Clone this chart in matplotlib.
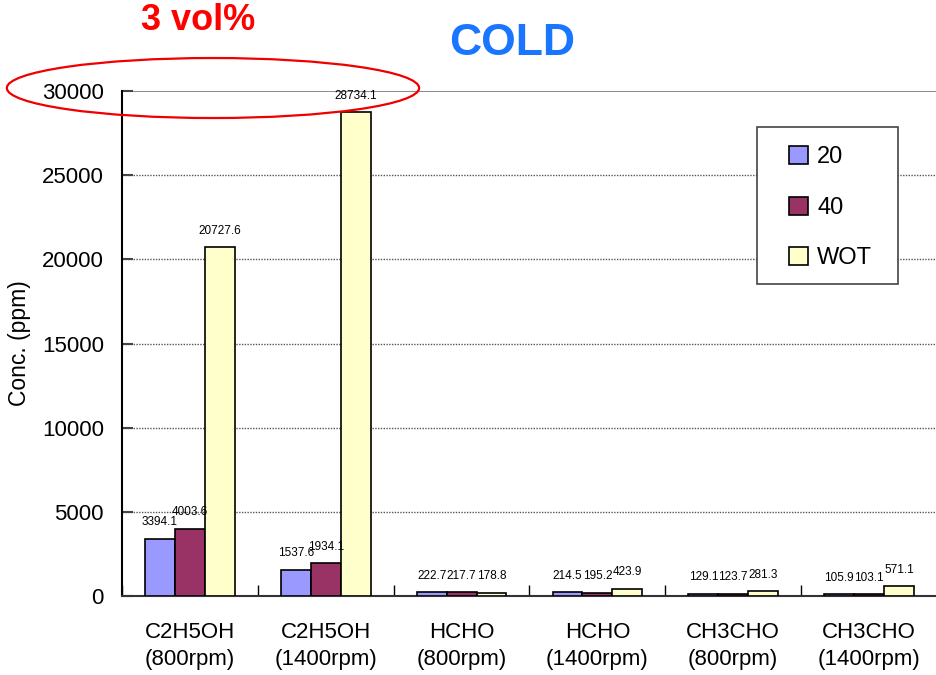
import matplotlib
matplotlib.use("Agg")
import matplotlib.pyplot as plt
from matplotlib.patches import Ellipse, Rectangle
import numpy as np

plt.rcParams['font.family'] = ['Liberation Sans', 'DejaVu Sans']

categories = ["C2H5OH\n(800rpm)", "C2H5OH\n(1400rpm)", "HCHO\n(800rpm)",
              "HCHO\n(1400rpm)", "CH3CHO\n(800rpm)", "CH3CHO\n(1400rpm)"]
series_names = ["20", "40", "WOT"]
vals_20 = [3394.1, 1537.6, 222.7, 214.5, 129.1, 105.9]
vals_40 = [4003.6, 1934.1, 217.7, 195.2, 123.7, 103.1]
vals_wot = [20727.6, 28734.1, 178.8, 423.9, 281.3, 571.1]
yticks = [0, 5000, 10000, 15000, 20000, 25000, 30000]

colors = ["#9999FF", "#993366", "#FFFFCC"]

fig = plt.figure(figsize=(9.37, 6.75), dpi=100)
ax = fig.add_axes([0.1302, 0.117, 0.8698, 0.748])

x = np.arange(len(categories))
w = 0.22
for i, (vals, name, col) in enumerate(zip([vals_20, vals_40, vals_wot], series_names, colors)):
    pos = x + (i - 1) * w
    ax.bar(pos, vals, width=w, color=col, edgecolor="black", linewidth=1.2,
           label=name, zorder=3)
    for px, v in zip(pos, vals):
        ax.annotate(f"{v:.1f}", (px, v), xytext=(0, 12), textcoords="offset points",
                    ha="center", va="center", fontsize=8.5, zorder=4)

ax.set_xlim(-0.5, len(categories) - 0.5)
ax.set_ylim(0, 30000)
ax.set_yticks(yticks)
ax.set_yticklabels([str(t) for t in yticks], fontsize=16)
ax.set_xticks(np.arange(len(categories) + 1) - 0.5)
ax.set_xticklabels([])
ax.tick_params(axis="x", direction="in", length=8, width=1, color="black")
ax.tick_params(axis="y", direction="in", length=8, width=1.5, color="#444444", pad=13)
for xi, lab in zip(x, categories):
    ax.text(xi, -1550, lab, ha="center", va="top", fontsize=16, linespacing=1.35)

for t in yticks[1:-1]:
    ax.axhline(t, color="#555555", linestyle=(0, (1, 1)), linewidth=1.0, zorder=1)
ax.axhline(30000, color="#777777", linewidth=1.2, zorder=1)

for side in ["top", "right"]:
    ax.spines[side].set_visible(False)
ax.spines["left"].set_linewidth(1.5)
ax.spines["bottom"].set_linewidth(1.5)
ax.spines["bottom"].set_color("#333333")

ax.set_ylabel("Conc. (ppm)", fontsize=16.5, labelpad=8)

# legend frame drawn separately so the entries can sit with a wider left margin
ax.add_patch(Rectangle((757 / 937, 1 - 284 / 675), 141 / 937, 157 / 675,
                       transform=fig.transFigure, facecolor="white",
                       edgecolor="#444444", linewidth=1.2, zorder=5, clip_on=False))
leg = ax.legend(loc="upper left", bbox_to_anchor=(789 / 937, 1 - 146 / 675),
                bbox_transform=fig.transFigure, fontsize=17, frameon=False,
                handlelength=0.8, handleheight=0.8, handletextpad=0.4,
                labelspacing=1.2, borderpad=0, borderaxespad=0)
leg.set_zorder(6)

fig.text(0.211, 0.970, "3 vol%", color="#FF0000", fontsize=26, fontweight="bold",
         ha="center", va="center")
fig.text(0.547, 0.936, "COLD", color="#1A75FF", fontsize=32, fontweight="bold",
         ha="center", va="center")

fig.patches.append(Ellipse((0.2273, 0.8696), 0.44, 0.0889, transform=fig.transFigure,
                           fill=False, edgecolor="#EE0000", linewidth=1.6, zorder=10))

fig.savefig("out.png", dpi=100)
